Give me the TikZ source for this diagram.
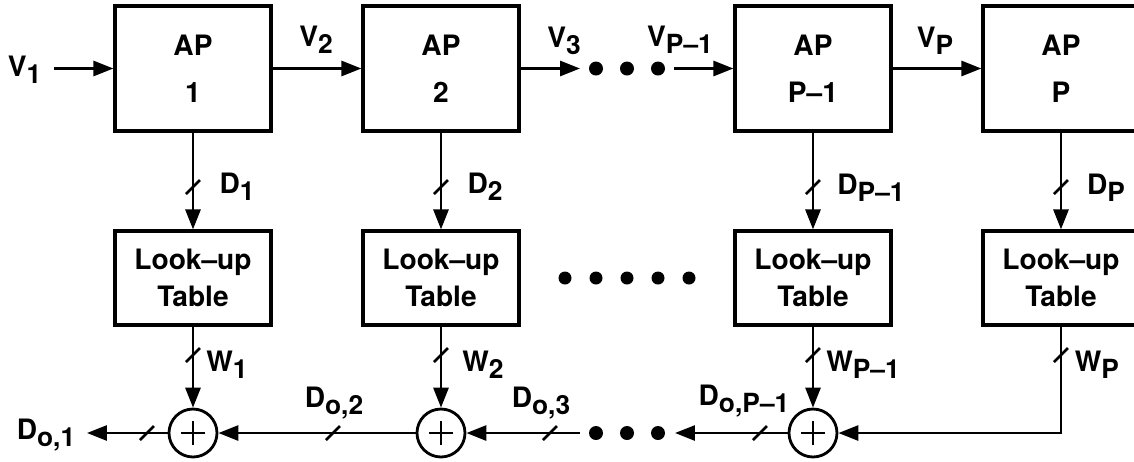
\documentclass[tikz,border=0pt]{standalone}
\usepackage{fontspec}
\setmainfont{TeX Gyre Heros}
\usepackage{tikz}
\usetikzlibrary{arrows.meta,positioning,calc}
\newcommand{\lowsub}[1]{\raisebox{-4pt}{\fontsize{15}{15}\selectfont #1}}

\begin{document}
\begin{tikzpicture}[x=0.02cm,y=-0.02cm,
    every node/.style={font=\fontsize{16}{27}\selectfont\bfseries},
    apbox/.style={draw,line width=1.8pt,minimum width=3.12cm,minimum height=2.5cm,align=center,inner sep=0pt},
    lutbox/.style={draw,line width=1.8pt,minimum width=3.12cm,minimum height=1.88cm,align=center,inner sep=0pt,font=\fontsize{16}{21}\selectfont\bfseries},
    adder/.style={draw,circle,line width=1.6pt,minimum size=0.96cm,inner sep=0pt,
      path picture={\draw[line width=1.5pt] (path picture bounding box.center) +(-0.24cm,0) -- +(0.24cm,0)
        (path picture bounding box.center) +(0,-0.24cm) -- +(0,0.24cm);}},
    sig/.style={line width=1.6pt,-{Triangle[length=0.4cm,width=0.3cm]}},
    slash/.style={line width=1.5pt},
    lbl/.style={inner sep=0pt}]
        \useasboundingbox (0,0) rectangle (1134,461);
        % AP chain
        \node[apbox] (ap1) at (193,68.5) {AP\\1};
        \node[apbox] (ap2) at (441,68.5) {AP\\2};
        \node[apbox] (apq) at (813,68.5) {AP\\P--1};
        \node[apbox] (app) at (1061,68.5) {AP\\P};
        % Look-up tables
        \node[lutbox] (lut1) at (193,278) {Look--up\\Table};
        \node[lutbox] (lut2) at (441,278) {Look--up\\Table};
        \node[lutbox] (lutq) at (813,278) {Look--up\\Table};
        \node[lutbox] (lutp) at (1061,278) {Look--up\\Table};
        % Adders
        \node[adder] (add1) at (193,433) {};
        \node[adder] (add2) at (441,433) {};
        \node[adder] (addq) at (813,433) {};
        % Free ends
        \coordinate (vin) at (54,68.5);
        \coordinate (vmid) at (580,68.5);
        \coordinate (vback) at (674,68.5);
        \coordinate (dmid) at (580,433);
        \coordinate (dback) at (675,433);
        \coordinate (dout) at (87,433);
        % Signal arrows
        \draw[sig] (vin) -- (ap1.west);
        \draw[sig] (ap1.east) -- (ap2.west);
        \draw[sig] (ap2.east) -- (vmid);
        \draw[sig] (vback) -- (apq.west);
        \draw[sig] (apq.east) -- (app.west);
        \foreach \n in {1,2,q,p} \draw[sig] (ap\n.south) -- (lut\n.north);
        \foreach \n in {1,2,q} \draw[sig] (lut\n.south) -- (add\n.north);
        \draw[sig] (lutp.south) |- (addq.east);
        \draw[sig] (addq.west) -- (dback);
        \draw[sig] (dmid) -- (add2.east);
        \draw[sig] (add2.west) -- (add1.east);
        \draw[sig] (add1.west) -- (dout);
        % Dots
        \foreach \x in {596,627,658} {
          \fill (\x,68.5) circle (0.14cm);
          \fill (\x,433) circle (0.14cm);
        }
        \foreach \x in {565,596,627,658,689} \fill (\x,278) circle (0.13cm);
        % Bus slashes
        \foreach \x in {193,441,813,1061} {
          \draw[slash] (\x,187) ++(-7,7) -- ++(14,-14);
          \draw[slash] (\x,355) ++(-7,7) -- ++(14,-14);
        }
        \foreach \x in {147,333,550,760} \draw[slash] (\x,433) ++(-7,7) -- ++(14,-14);
        % Labels
        \node[lbl] (lv1) at (24.5,70) {V\lowsub{1}};
        \node[lbl] (lv2) at (316,40) {V\lowsub{2}};
        \node[lbl] (lv3) at (564,41) {V\lowsub{3}};
        \node[lbl] (lvq) at (680,40) {V\lowsub{P--1}};
        \node[lbl] (lvp) at (935,41) {V\lowsub{P}};
        \node[lbl] (ld1) at (237,187) {D\lowsub{1}};
        \node[lbl] (ld2) at (485,187) {D\lowsub{2}};
        \node[lbl] (ldq) at (871,188) {D\lowsub{P--1}};
        \node[lbl] (ldp) at (1106,188) {D\lowsub{P}};
        \node[lbl] (lw1) at (227,365) {W\lowsub{1}};
        \node[lbl] (lw2) at (483,365) {W\lowsub{2}};
        \node[lbl] (lwq) at (863,365) {W\lowsub{P--1}};
        \node[lbl] (lwp) at (1097,365) {W\lowsub{P}};
        \node[lbl] (ldo1) at (46,435) {D\lowsub{o,1}};
        \node[lbl] (ldo2) at (334,403) {D\lowsub{o,2}};
        \node[lbl] (ldo3) at (541,403) {D\lowsub{o,3}};
        \node[lbl] (ldoq) at (744,401) {D\lowsub{o,P--1}};
\end{tikzpicture}
\end{document}
